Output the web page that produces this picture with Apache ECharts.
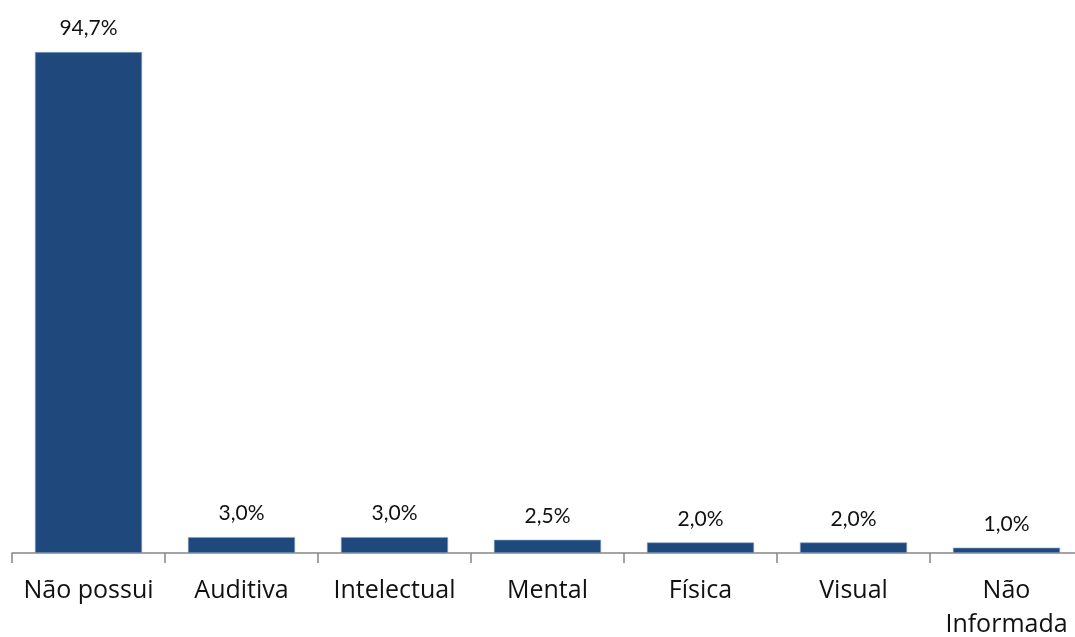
<!DOCTYPE html>
<html><head><meta charset="utf-8">
<script src="https://cdn.jsdelivr.net/npm/echarts@6/dist/echarts.min.js"></script>
<style>html,body{margin:0;padding:0;background:#fff}#c{width:1075px;height:637px}</style>
</head><body><div id="c"></div>
<script>
const categories = ['Não possui','Auditiva','Intelectual','Mental','Física','Visual','Não\nInformada'];
const values = [94.7, 3.0, 3.0, 2.5, 2.0, 2.0, 1.0];
const chart = echarts.init(document.getElementById('c'));
chart.setOption({
  animation: false,
  grid: {left: 12, right: -8, top: 24, bottom: 84, outerBoundsMode: 'none', containLabel: false},
  xAxis: {
    type: 'category', data: categories,
    axisLine: {lineStyle: {color: '#868686', width: 1.5}},
    axisTick: {show: true, length: 10, lineStyle: {color: '#868686', width: 1.5}},
    axisLabel: {color: '#111', fontSize: 25, fontFamily: 'Open Sans', margin: 21, lineHeight: 34, interval: 0}
  },
  yAxis: {type: 'value', min: 0, max: 100, show: false, splitLine: {show: false}},
  series: [{
    type: 'bar', data: values, barWidth: '70%',
    itemStyle: {color: '#1F497D', borderColor: '#8FA6C4', borderWidth: 0.6},
    label: {show: true, position: 'top', distance: 13, color: '#111', fontSize: 21, fontFamily: 'Lato',
      formatter: p => p.value.toFixed(1).replace('.', ',') + '%'}
  }]
});
</script></body></html>
